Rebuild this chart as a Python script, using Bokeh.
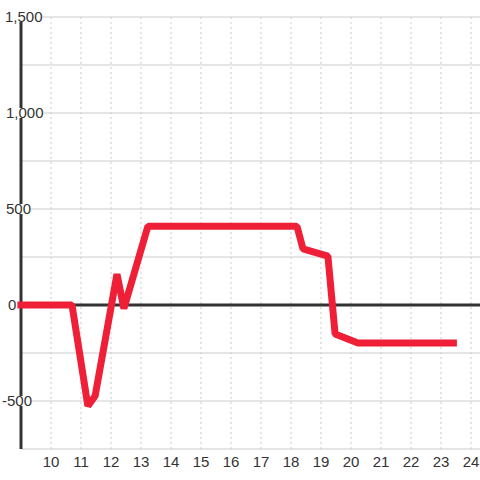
from bokeh.plotting import figure
from bokeh.models import Range1d
from bokeh.core.properties import value
from bokeh.embed import file_html
from bokeh.resources import INLINE

# ---- data (hour of day vs value) ----
x_values = [8.88, 10.7, 11.23, 11.47, 12.2, 12.43, 13.23, 18.2, 18.4, 19.23, 19.47, 20.23, 23.53]
y_values = [0, 0, -526, -474, 161, -18, 410, 410, 292, 255, -151, -198, -198]

x_ticks = list(range(10, 25))
x_tick_labels = [str(t) for t in x_ticks]
y_grid_ticks = [-750, -500, -250, 250, 500, 750, 1000, 1250, 1500]
y_label_values = [1500, 1000, 500, 0, -500]
y_label_texts = ["1,500", "1,000", "500", "0", "-500"]

# ---- plot area bounds (axis start/end) ----
X_AXIS = 9.0
X_END = 24.32
Y_MIN = -750
Y_MAX = 1500

# ---- style ----
FONT = "Liberation Sans"
TEXT_COLOR = "#333333"
RED = "#EE1F36"
DARK = "#333333"
GRID = "#cccccc"
y_label_dx = [-16, -15, -15, -13, -19]   # pixel offsets of y labels from the axis

p = figure(width=480, height=480, output_backend="svg", toolbar_location=None,
           x_range=Range1d(8.3167, 24.3167), y_range=Range1d(-914.06, 1585.94),
           x_axis_location=None, y_axis_location=None,
           min_border=0, background_fill_color="white", border_fill_color="white")
p.outline_line_color = None
p.xgrid.visible = False
p.ygrid.visible = False

n = len(x_ticks)
# vertical dotted grid
p.segment(x0=x_ticks, y0=[Y_MIN] * n, x1=x_ticks, y1=[Y_MAX] * n,
          line_color=GRID, line_width=1, line_dash="2 3")
# horizontal grid
m = len(y_grid_ticks)
p.segment(x0=[X_AXIS] * m, y0=y_grid_ticks, x1=[X_END] * m, y1=y_grid_ticks,
          line_color=GRID, line_width=1)
# y axis line
p.segment(x0=[X_AXIS], y0=[Y_MIN], x1=[X_AXIS], y1=[Y_MAX], line_color=DARK, line_width=3)
# zero line
p.segment(x0=[X_AXIS], y0=[0], x1=[X_END], y1=[0], line_color=DARK, line_width=3)

# data line
p.line(x_values, y_values, line_color=RED, line_width=7, line_join="bevel")

# y labels (inside, white background)
k = len(y_label_values)
p.text(x=[X_AXIS] * k, y=y_label_values, text=y_label_texts, x_offset=y_label_dx,
       text_align="left", text_baseline="middle",
       text_font=value(FONT), text_font_size="15px", text_color=TEXT_COLOR,
       background_fill_color="white")

# x labels
p.text(x=x_ticks, y=[Y_MIN] * n, text=x_tick_labels, y_offset=12.5,
       text_align="center", text_baseline="middle",
       text_font=value(FONT), text_font_size="15px", text_color=TEXT_COLOR)

open("out.html", "w").write(file_html(p, INLINE))
